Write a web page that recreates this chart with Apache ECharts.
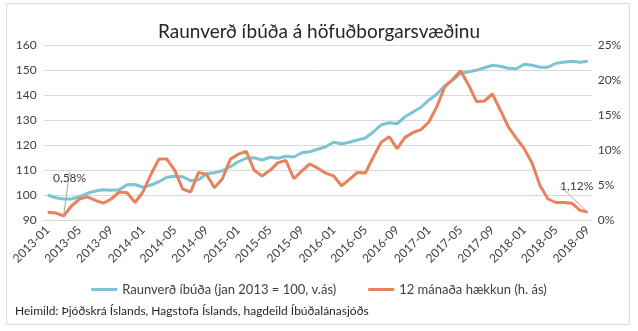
<!DOCTYPE html>
<html>
<head>
<meta charset="utf-8">
<script src="https://cdn.jsdelivr.net/npm/echarts@6/dist/echarts.min.js"></script>
<style>
html,body{margin:0;padding:0;background:#fff;}
#c{width:638px;height:331px;}
</style>
</head>
<body>
<div id="c"></div>
<script>
// ---- data ----
const startYear = 2013, startMonth = 1, monthCount = 69;
const categories = [];
for (let k = 0; k < monthCount; k++) {
  const m = (startMonth - 1 + k) % 12 + 1;
  const y = startYear + Math.floor((startMonth - 1 + k) / 12);
  categories.push(y + '-' + (m < 10 ? '0' + m : m));
}
const realPrice = [
  100.0, 98.9, 98.4, 98.4, 99.3, 100.7, 101.6, 102.1, 101.9, 102.1,
  104.1, 104.2, 103.1, 104.0, 105.3, 107.1, 107.5, 107.3, 105.7, 106.1,
  108.5, 108.9, 109.7, 111.3, 113.3, 114.7, 114.9, 114.0, 115.1, 114.7,
  115.5, 115.2, 116.9, 117.3, 118.3, 119.3, 121.1, 120.5, 121.1, 122.0,
  122.8, 125.2, 128.1, 128.9, 128.5, 131.3, 133.2, 135.1, 138.0, 140.3,
  143.7, 146.0, 148.7, 149.3, 149.9, 150.9, 151.9, 151.5, 150.7, 150.5,
  152.3, 151.9, 151.1, 151.1, 152.7, 153.1, 153.5, 153.1, 153.5
];
const change12m = [
  1.1, 1.0, 0.58, 2.0, 3.0, 3.3, 2.8, 2.4, 3.0, 4.0,
  3.9, 2.5, 4.0, 6.5, 8.7, 8.7, 7.1, 4.4, 4.0, 6.8,
  6.5, 4.6, 5.9, 8.7, 9.4, 9.8, 7.1, 6.3, 7.1, 8.2,
  8.5, 5.9, 7.0, 8.0, 7.4, 6.7, 6.3, 4.9, 5.8, 6.8,
  6.7, 9.0, 11.1, 11.9, 10.2, 11.8, 12.5, 12.9, 14.0, 16.2,
  19.0, 20.1, 21.3, 19.3, 16.9, 17.0, 18.0, 15.7, 13.3, 11.7,
  10.2, 8.1, 4.9, 3.0, 2.5, 2.5, 2.4, 1.4, 1.12
];
const leftTicks = [90, 160, 10];
const rightTicks = [0, 25, 5];
const annotated = [2, 68];
const seriesNames = ['Raunverð íbúða (jan 2013 = 100, v.ás)', '12 mánaða hækkun (h. ás)'];
const titleText = 'Raunverð íbúða á höfuðborgarsvæðinu';
const sourceText = 'Heimild: Þjóðskrá Íslands, Hagstofa Íslands, hagdeild Íbúðalánasjóðs';

// ---- chart ----
const FONT = 'Lato';
const TXT = '#404040';
const chart = echarts.init(document.getElementById('c'), null, {renderer: 'canvas'});
const orangeData = change12m.map((v, i) => annotated.indexOf(i) >= 0 ? {
  value: v,
  label: {show: true}
} : v);

chart.setOption({
  animation: false,
  backgroundColor: '#fff',
  textStyle: {fontFamily: FONT},
  title: {
    text: titleText, left: 'center', top: 17,
    textStyle: {fontFamily: FONT, fontSize: 19, fontWeight: 'normal', color: '#262626'}
  },
  grid: {left: 43.7, right: 46.3, top: 45, bottom: 111, containLabel: false},
  legend: {
    bottom: 30, left: 'center', icon: 'rect', itemWidth: 26, itemHeight: 3, itemGap: 32,
    textStyle: {fontFamily: FONT, fontSize: 13, color: TXT},
    data: seriesNames
  },
  xAxis: {
    type: 'category', data: categories, boundaryGap: true,
    axisLine: {show: false}, axisTick: {show: false},
    axisLabel: {interval: 3, rotate: 45, fontSize: 12, color: TXT, fontFamily: FONT, margin: 8}
  },
  yAxis: [{
    type: 'value', min: leftTicks[0], max: leftTicks[1], interval: leftTicks[2],
    axisLine: {show: false}, axisTick: {show: false},
    axisLabel: {fontSize: 12, color: TXT, fontFamily: FONT, margin: 7},
    splitLine: {lineStyle: {color: '#d9d9d9', width: 1}}
  }, {
    type: 'value', min: rightTicks[0], max: rightTicks[1], interval: rightTicks[2],
    axisLine: {show: false}, axisTick: {show: false},
    axisLabel: {fontSize: 12, color: TXT, fontFamily: FONT, formatter: '{value}%', margin: 6},
    splitLine: {show: false}
  }],
  series: [{
    name: seriesNames[0], type: 'line', yAxisIndex: 0, data: realPrice,
    symbol: 'none', lineStyle: {color: '#7cc3d3', width: 3}, itemStyle: {color: '#7cc3d3'}, z: 2
  }, {
    name: seriesNames[1], type: 'line', yAxisIndex: 1, data: orangeData,
    symbol: 'circle', symbolSize: 0, showSymbol: true,
    lineStyle: {color: '#e6825c', width: 3}, itemStyle: {color: '#e6825c'}, z: 3,
    label: {
      show: false, position: 'top', fontSize: 12, color: TXT, fontFamily: FONT,
      formatter: p => Number(p.value).toFixed(2).replace('.', ',') + '%'
    },
    labelLine: {show: true, lineStyle: {color: '#a6a6a6', width: 1}},
    labelLayout: function (p) {
      if (p.dataIndex === annotated[0]) return {dx: 6, dy: -27};
      if (p.dataIndex === annotated[1]) return {dx: -11, dy: -15};
      return {};
    }
  }],
  graphic: [{
    type: 'rect', shape: {x: 6.5, y: 3.5, width: 623, height: 321},
    style: {fill: null, stroke: '#d9d9d9', lineWidth: 1}, silent: true, z: -1
  }, {
    type: 'text', left: 15, top: 305,
    style: {text: sourceText, fontSize: 12, fill: '#262626', fontFamily: FONT}
  }]
});
</script>
</body>
</html>
